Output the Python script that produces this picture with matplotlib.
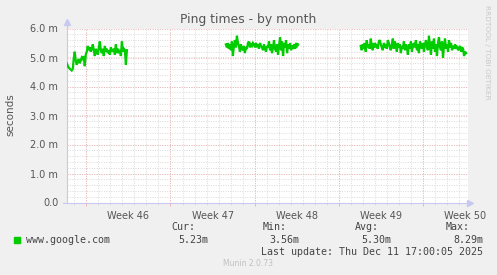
import matplotlib
matplotlib.use("Agg")
import matplotlib.pyplot as plt
import numpy as np

# Ping-Werte in ms (Munin, alle 2 Stunden), drei Abschnitte mit Lücken dazwischen
seg1 = [4.80, 4.72, 4.65, 4.62, 4.58, 4.55, 4.60, 4.95, 5.20, 4.90, 4.75, 4.85, 4.95, 4.80,
        4.90, 5.00, 4.95, 5.05, 4.70, 5.10, 5.20, 5.40, 5.25, 5.35, 5.20, 5.30, 5.45, 5.25,
        5.05, 5.30, 5.20, 5.10, 5.35, 5.55, 5.25, 5.15, 5.30, 5.05, 5.40, 5.20, 5.30, 5.15,
        5.25, 5.10, 5.35, 5.20, 5.25, 5.30, 5.10, 5.45, 5.15, 5.30, 5.20, 5.25, 5.05, 5.55,
        5.20, 5.30, 5.25, 4.75, 5.25]
seg2 = [5.45, 5.35, 5.50, 5.30, 5.45, 5.25, 5.55, 5.05, 5.40, 5.60, 5.35, 5.75, 5.50, 5.40,
        5.20, 5.45, 5.30, 5.25, 5.40, 5.15, 5.35, 5.30, 5.50, 5.55, 5.35, 5.45, 5.40, 5.50,
        5.45, 5.35, 5.50, 5.40, 5.45, 5.30, 5.50, 5.40, 5.35, 5.25, 5.45, 5.30, 5.20, 5.40,
        5.35, 5.55, 5.25, 5.45, 5.15, 5.35, 5.60, 5.30, 5.20, 5.45, 5.10, 5.40, 5.70, 5.25,
        5.55, 5.05, 5.50, 5.35, 5.60, 5.15, 5.45, 5.30, 5.50, 5.25, 5.40, 5.35, 5.45, 5.30,
        5.50, 5.40, 5.45]
seg3 = [5.40, 5.25, 5.45, 5.30, 5.50, 5.20, 5.60, 5.35, 5.45, 5.30, 5.65, 5.40, 5.25, 5.50,
        5.35, 5.45, 5.40, 5.30, 5.55, 5.60, 5.45, 5.35, 5.25, 5.50, 5.40, 5.45, 5.30, 5.60,
        5.50, 5.35, 5.25, 5.45, 5.65, 5.30, 5.55, 5.40, 5.20, 5.50, 5.35, 5.45, 5.15, 5.40,
        5.30, 5.55, 5.25, 5.45, 5.35, 5.10, 5.45, 5.30, 5.55, 5.20, 5.40, 5.50, 5.35, 5.60,
        5.25, 5.45, 5.15, 5.55, 5.40, 5.30, 5.50, 5.20, 5.45, 5.60, 5.35, 5.25, 5.75, 5.40,
        5.10, 5.55, 5.30, 5.65, 5.20, 5.45, 5.05, 5.50, 5.70, 5.35, 5.25, 5.55, 5.00, 5.40,
        5.65, 5.30, 5.45, 5.20, 5.60, 5.35, 5.50, 5.25, 5.40, 5.30, 5.45, 5.35, 5.40, 5.25,
        5.30, 5.40, 5.20, 5.35, 5.30, 5.05, 5.20, 5.15]
# Startzeit der Abschnitte in Tagen ab Mo 10.11.2025 (Woche 46)
seg_starts = [-1.62, 11.6, 22.8]
step = 1 / 12  # 2 Stunden

weeks = [46, 47, 48, 49, 50]
week_starts = [0, 7, 14, 21, 28]
t_min, t_max = -1.62, 31.71

legend_name = "www.google.com"
stat_names = ["Cur:", "Min:", "Avg:", "Max:"]
stat_values = ["5.23m", "3.56m", "5.30m", "8.29m"]

W, H = 497, 275
fig = plt.figure(figsize=(W / 100, H / 100), dpi=100, facecolor="#F0F0F0")
ax = fig.add_axes([66.7 / W, 1 - 202.5 / H, (468 - 66.7) / W, (202.5 - 28.5) / H])
ax.set_facecolor("white")

# Gitter (gepunktet)
dot = (0, (1, 1.5))
minor_col = "#DADADA"
major_col = "#EEB4B4"
for d in range(-1, 32):
    ax.axvline(d, color=minor_col, lw=0.7, ls=dot, zorder=1)
for v in np.arange(0.2, 6.01, 0.2):
    ax.axhline(v, color=minor_col, lw=0.7, ls=dot, zorder=1)
for w in week_starts:
    ax.axvline(w, color=major_col, lw=0.7, ls=dot, zorder=2)
for v in range(1, 7):
    ax.axhline(v, color=major_col, lw=0.7, ls=dot, zorder=2)
# kleine Striche unter der x-Achse
ax.vlines(range(-1, 32), -0.07, 0, color=minor_col, lw=0.7, clip_on=False)
ax.vlines(week_starts, -0.12, 0, color=major_col, lw=0.7, clip_on=False)

for start, seg in zip(seg_starts, [seg1, seg2, seg3]):
    t = start + step * np.arange(len(seg))
    ax.plot(t, seg, color="#00CC00", lw=1.6, zorder=3, solid_joinstyle="miter")

ax.set_xlim(t_min, t_max)
ax.set_ylim(0, 6.0)
for s in ax.spines.values():
    s.set_visible(False)

# Achsen mit Pfeilen
axis_col = "#C8C8F0"
ax.plot([0, 0], [0, 1.035], transform=ax.transAxes, color=axis_col, lw=0.8, clip_on=False)
ax.plot([-0.01, 1.005], [0, 0], transform=ax.transAxes, color=axis_col, lw=0.8, clip_on=False)
ax.plot([0], [1.035], transform=ax.transAxes, marker="^", ms=4, color=axis_col, clip_on=False)
ax.plot([1.005], [0], transform=ax.transAxes, marker=">", ms=4, color=axis_col, clip_on=False)

ax.set_yticks(range(0, 7))
ax.set_yticklabels(["0.0"] + ["%d.0 m" % v for v in range(1, 7)])
ax.set_xticks([w + 3.5 for w in week_starts])
ax.set_xticklabels(["Week %d" % w for w in weeks])
ax.tick_params(length=0, labelsize=7, colors="#555555", pad=6)

fig.text(10 / W, 1 - 115 / H, "seconds", rotation=90, ha="center", va="center",
         fontsize=7.5, color="#555555")
fig.text(248 / W, 1 - 19 / H, "Ping times - by month", ha="center", va="center",
         fontsize=8.9, color="#555555")
fig.text(487 / W, 1 - 5 / H, "RRDTOOL / TOBI OETIKER", ha="center", va="top",
         rotation=270, fontsize=5.3, color="#C8C8C8")

mono = dict(family="DejaVu Sans Mono", fontsize=7.2, color="#444444")
fig.patches.append(plt.Rectangle((14 / W, 1 - 243 / H), 6 / W, 6 / H,
                                 transform=fig.transFigure, color="#00CC00"))
fig.text(26 / W, 1 - 240 / H, legend_name, ha="left", va="center", **mono)
for i, (n, v) in enumerate(zip(stat_names, stat_values)):
    fig.text((195 + 91.7 * i) / W, 1 - 227 / H, n, ha="right", va="center", **mono)
    fig.text((208 + 91.7 * i) / W, 1 - 240 / H, v, ha="right", va="center", **mono)
fig.text(483 / W, 1 - 252 / H, "Last update: Thu Dec 11 17:00:05 2025",
         ha="right", va="center", **mono)
fig.text(248 / W, 1 - 264 / H, "Munin 2.0.73", ha="center", va="center",
         fontsize=5.5, color="#C0C0C0")

fig.savefig("out.png", dpi=100, facecolor=fig.get_facecolor())
